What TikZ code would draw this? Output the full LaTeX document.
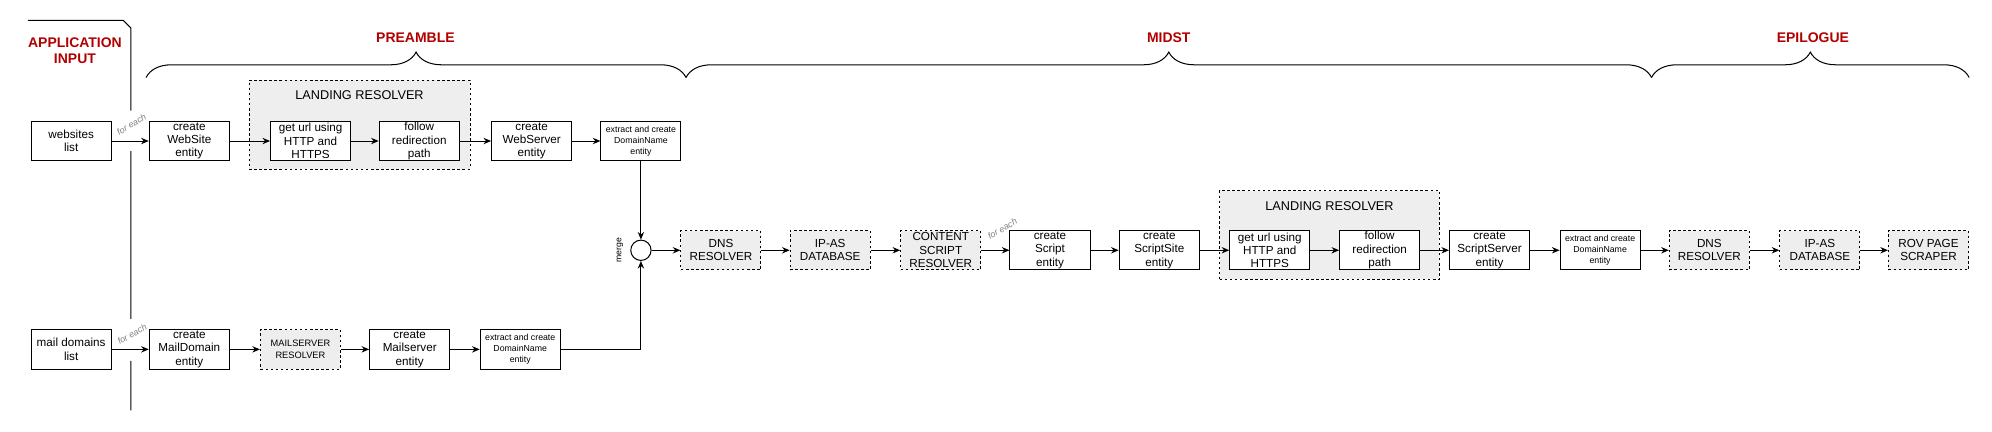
\documentclass[tikz,border=0pt]{standalone}
\usepackage{fontspec}
\setmainfont{Liberation Sans}
\usetikzlibrary{arrows.meta,shapes,calc,decorations.pathreplacing,backgrounds}
\definecolor{phasered}{HTML}{B20000}
\definecolor{resolvergray}{HTML}{EEEEEE}
\tikzstyle{entity} = [rectangle, draw=black, fill=white, line width=0.8pt, minimum width=63pt, minimum height=31pt, align=center, inner sep=0pt, font=\fontsize{9.2}{10.5}\selectfont]
\tikzstyle{domainbox} = [entity, font=\fontsize{6.9}{8.6}\selectfont]
\tikzstyle{resolver} = [entity, fill=resolvergray, dash pattern=on 2pt off 2pt]
\tikzstyle{smallresolver} = [resolver, font=\fontsize{7.3}{9}\selectfont]
\tikzstyle{group} = [rectangle, draw=black, fill=resolvergray, line width=0.7pt, dash pattern=on 2pt off 2pt]
\tikzstyle{grouptitle} = [font=\fontsize{10}{12}\selectfont]
\tikzstyle{arrow} = [line width=0.8pt,-{Stealth[length=6pt,width=5pt]}]
\tikzstyle{phase} = [font=\fontsize{11}{13}\selectfont\bfseries, text=phasered, align=center]
\tikzstyle{brace} = [decorate, decoration={brace, amplitude=20pt}, line width=0.8pt]
\tikzstyle{loopnote} = [font=\fontsize{7}{8}\selectfont\itshape, text=gray, rotate=30, inner sep=0pt]

\begin{document}
\begin{tikzpicture}[x=1pt, y=-1pt]
    \useasboundingbox (0,0) rectangle (1568,340);
    % input column
    \node[phase] (inputtitle) at (59,40) {APPLICATION\\INPUT};
    \draw [line width=0.8pt] (22,16) -- (97,16) -- (103,22) -- (103,87) (103,119) -- (103,251) (103,284) -- (103,323);
    % phases
    \draw [brace] (115,61) -- (540,61);
    \draw [brace] (540,61) -- (1300,61);
    \draw [brace] (1300,61) -- (1550,61);
    \node[phase] (preamble) at (327,30) {PREAMBLE};
    \node[phase] (midst) at (920,30) {MIDST};
    \node[phase] (epilogue) at (1427,30) {EPILOGUE};
    % landing resolver groups
    \node[group, minimum width=174pt, minimum height=70pt] (landinga) at (283,98) {};
    \node[grouptitle] at (283,75) {LANDING RESOLVER};
    \node[group, minimum width=173pt, minimum height=70pt] (landingb) at (1046.5,185) {};
    \node[grouptitle] at (1046.5,162) {LANDING RESOLVER};
    % websites row
    \node[entity] (websites) at (56,111) {websites\\list};
    \node[entity] (website) at (149,111) {create\\WebSite\\entity};
    \node[entity] (geturla) at (244.5,111) {get url using\\HTTP and\\HTTPS};
    \node[entity] (followa) at (330,111) {follow\\redirection\\path};
    \node[entity] (webserver) at (418.5,111) {create\\WebServer\\entity};
    \node[domainbox] (domaina) at (504.5,111) {extract and create\\DomainName\\entity};
    % mail row
    \node[entity] (maildomains) at (56,275) {mail domains\\list};
    \node[entity] (maildomain) at (149,275) {create\\MailDomain\\entity};
    \node[smallresolver] (mailresolver) at (236.5,275) {MAILSERVER\\RESOLVER};
    \node[entity] (mailserver) at (322.5,275) {create\\Mailserver\\entity};
    \node[domainbox] (domainb) at (409.5,275) {extract and create\\DomainName\\entity};
    % merge
    \node[circle, draw=black, line width=0.8pt, minimum size=16pt, inner sep=0pt] (merge) at (504.5,197) {};
    \node[font=\fontsize{6.8}{7}\selectfont, rotate=90] at (488,197) {merge};
    % main row
    \node[resolver] (dnsa) at (567.5,197) {DNS\\RESOLVER};
    \node[resolver] (ipasa) at (653.5,197) {IP-AS\\DATABASE};
    \node[resolver] (content) at (740.5,197) {CONTENT\\SCRIPT\\RESOLVER};
    \node[entity] (script) at (826.5,197) {create\\Script\\entity};
    \node[entity] (scriptsite) at (912.5,197) {create\\ScriptSite\\entity};
    \node[entity] (geturlb) at (999.5,197) {get url using\\HTTP and\\HTTPS};
    \node[entity] (followb) at (1086,197) {follow\\redirection\\path};
    \node[entity] (scriptserver) at (1172.5,197) {create\\ScriptServer\\entity};
    \node[domainbox] (domainc) at (1259.5,197) {extract and create\\DomainName\\entity};
    \node[resolver] (dnsb) at (1345.5,197) {DNS\\RESOLVER};
    \node[resolver] (ipasb) at (1432.5,197) {IP-AS\\DATABASE};
    \node[resolver] (rov) at (1518,197) {ROV PAGE\\SCRAPER};
    % loops
    \node[loopnote] at (103.5,98) {for each};
    \node[loopnote] at (104,263) {for each};
    \node[loopnote] at (789,180) {for each};
    % connectors
    \draw [arrow] (websites) -- (website);
    \draw [arrow] (website) -- (geturla);
    \draw [arrow] (geturla) -- (followa);
    \draw [arrow] (followa) -- (webserver);
    \draw [arrow] (webserver) -- (domaina);
    \draw [arrow] (domaina) -- (merge);
    \draw [arrow] (maildomains) -- (maildomain);
    \draw [arrow] (maildomain) -- (mailresolver);
    \draw [arrow] (mailresolver) -- (mailserver);
    \draw [arrow] (mailserver) -- (domainb);
    \draw [arrow] (domainb) -| (merge);
    \draw [arrow] (merge) -- (dnsa);
    \draw [arrow] (dnsa) -- (ipasa);
    \draw [arrow] (ipasa) -- (content);
    \draw [arrow] (content) -- (script);
    \draw [arrow] (script) -- (scriptsite);
    \draw [arrow] (scriptsite) -- (geturlb);
    \draw [arrow] (geturlb) -- (followb);
    \draw [arrow] (followb) -- (scriptserver);
    \draw [arrow] (scriptserver) -- (domainc);
    \draw [arrow] (domainc) -- (dnsb);
    \draw [arrow] (dnsb) -- (ipasb);
    \draw [arrow] (ipasb) -- (rov);
\end{tikzpicture}
\end{document}
